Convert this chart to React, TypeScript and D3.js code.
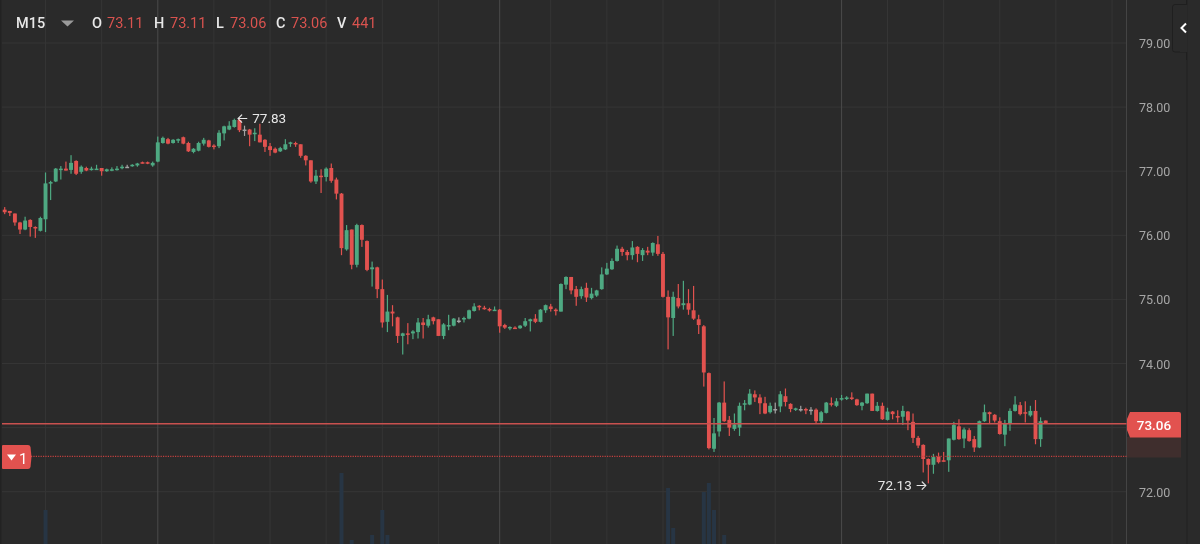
import React from "react";
import * as d3 from "d3";

const opens = [
  76.40,76.38,76.34,76.20,76.09,76.24,76.13,76.07,76.25,76.81,
  76.84,77.03,77.04,77.02,77.16,76.99,77.05,77.02,77.03,77.05,
  77.00,77.02,77.03,77.05,77.07,77.08,77.09,77.14,77.14,77.09,
  77.15,77.44,77.50,77.44,77.48,77.53,77.44,77.30,77.32,77.43,
  77.48,77.40,77.39,77.59,77.65,77.69,77.80,77.65,77.65,77.58,
  77.57,77.49,77.39,77.35,77.31,77.34,77.43,77.44,77.42,77.24,
  77.17,76.84,76.93,76.91,77.05,76.87,76.65,75.78,76.09,75.54,
  76.16,75.91,75.47,75.50,75.16,74.65,74.81,74.72,74.43,74.47,
  74.47,74.49,74.64,74.59,74.72,74.69,74.43,74.58,74.59,74.67,
  74.69,74.70,74.82,74.90,74.87,74.85,74.83,74.84,74.60,74.56,
  74.56,74.55,74.59,74.66,74.70,74.65,74.83,74.89,74.84,74.81,
  75.23,75.35,75.16,75.05,75.18,75.02,75.06,75.16,75.39,75.47,
  75.60,75.79,75.74,75.69,75.82,75.69,75.76,75.73,75.86,75.71,
  75.04,74.71,75.02,74.91,74.94,74.83,74.69,74.58,73.85,72.67,
  72.94,73.39,73.12,72.98,73.00,73.36,73.36,73.52,73.47,73.38,
  73.24,73.29,73.33,73.49,73.37,73.28,73.29,73.29,73.28,73.28,
  73.10,73.23,73.38,73.34,73.44,73.45,73.47,73.44,73.34,73.38,
  73.53,73.26,73.34,73.12,73.25,73.18,73.17,73.25,73.09,72.84,
  72.73,72.51,72.42,72.55,72.49,72.49,72.81,73.02,72.83,72.96,
  72.82,72.69,73.10,73.24,73.20,73.10,72.89,73.06,73.26,73.35,
  73.24,73.19,73.26,72.82,73.11,
];
const closes = [
  76.36,76.35,76.20,76.09,76.23,76.13,76.11,76.27,76.81,76.83,
  77.04,77.04,77.01,77.13,76.96,77.07,77.01,77.04,77.04,77.00,
  77.03,77.03,77.04,77.07,77.07,77.10,77.12,77.13,77.12,77.13,
  77.45,77.52,77.43,77.49,77.50,77.43,77.31,77.35,77.44,77.49,
  77.38,77.38,77.60,77.70,77.71,77.80,77.64,77.65,77.57,77.60,
  77.45,77.38,77.33,77.29,77.36,77.42,77.45,77.43,77.24,77.17,
  76.84,76.93,76.92,77.04,76.85,76.65,75.80,76.08,75.54,76.16,
  75.93,75.46,75.50,75.16,74.64,74.81,74.78,74.43,74.47,74.45,
  74.50,74.64,74.60,74.69,74.66,74.43,74.61,74.60,74.70,74.67,
  74.71,74.83,74.89,74.88,74.85,74.83,74.84,74.58,74.56,74.57,
  74.54,74.59,74.66,74.69,74.65,74.84,74.91,74.85,74.82,75.24,
  75.35,75.14,75.04,75.16,75.03,75.09,75.14,75.39,75.48,75.60,
  75.79,75.74,75.69,75.81,75.71,75.77,75.73,75.88,75.71,75.04,
  74.72,75.04,74.89,74.94,74.84,74.70,74.60,73.86,72.68,72.91,
  73.39,73.10,73.00,73.05,73.34,73.38,73.53,73.47,73.38,73.22,
  73.34,73.29,73.52,73.40,73.29,73.30,73.29,73.27,73.28,73.10,
  73.24,73.39,73.36,73.41,73.46,73.47,73.45,73.35,73.39,73.53,
  73.26,73.34,73.13,73.25,73.21,73.16,73.26,73.11,72.84,72.72,
  72.51,72.42,72.54,72.46,72.48,72.83,73.04,72.82,72.97,72.79,
  72.69,73.10,73.24,73.21,73.11,72.90,73.06,73.26,73.36,73.21,
  73.23,73.26,72.82,73.10,73.06,
];
const highs = [
  76.44,76.38,76.34,76.21,76.29,76.25,76.14,76.29,76.98,76.85,
  77.05,77.08,77.15,77.25,77.17,77.09,77.07,77.07,77.10,77.05,
  77.04,77.06,77.08,77.10,77.10,77.11,77.13,77.15,77.15,77.15,
  77.54,77.54,77.52,77.50,77.51,77.54,77.46,77.36,77.46,77.52,
  77.49,77.42,77.64,77.71,77.78,77.82,77.83,77.71,77.66,77.67,
  77.74,77.50,77.44,77.37,77.38,77.50,77.46,77.46,77.42,77.25,
  77.17,77.02,77.03,77.06,77.12,76.90,76.66,76.16,76.09,76.18,
  76.17,75.92,75.59,75.51,75.31,75.07,74.91,74.73,74.48,74.63,
  74.52,74.71,74.71,74.76,74.73,74.69,74.63,74.76,74.71,74.72,
  74.73,74.84,74.94,74.91,74.90,74.87,74.89,74.85,74.62,74.58,
  74.58,74.60,74.71,74.70,74.77,74.85,74.92,74.93,74.86,75.25,
  75.36,75.35,75.21,75.20,75.26,75.18,75.15,75.50,75.57,75.64,
  75.84,75.82,75.77,75.91,75.83,75.80,75.82,75.89,75.99,75.74,
  75.14,75.12,75.24,75.29,75.16,75.21,74.76,74.60,73.86,73.15,
  73.40,73.72,73.18,73.22,73.39,73.43,73.60,73.58,73.52,73.48,
  73.39,73.39,73.57,73.61,73.38,73.31,73.34,73.31,73.32,73.30,
  73.26,73.40,73.47,73.46,73.51,73.49,73.55,73.45,73.40,73.53,
  73.53,73.40,73.39,73.31,73.26,73.27,73.34,73.26,73.22,72.87,
  72.74,72.52,72.59,72.61,72.62,72.83,73.09,73.13,73.00,72.99,
  72.87,73.11,73.36,73.25,73.21,73.16,73.12,73.30,73.49,73.40,
  73.41,73.34,73.43,73.16,73.11,
];
const lows = [
  76.33,76.30,76.15,76.02,76.08,75.98,75.96,76.06,76.05,76.55,
  76.83,76.87,77.01,76.96,76.94,76.96,77.00,77.01,77.02,76.93,
  76.99,77.00,77.01,77.03,77.05,77.07,77.07,77.12,77.11,77.07,
  77.14,77.43,77.42,77.43,77.44,77.42,77.30,77.28,77.31,77.40,
  77.37,77.34,77.36,77.48,77.64,77.68,77.61,77.55,77.39,77.47,
  77.45,77.30,77.24,77.28,77.30,77.33,77.38,77.38,77.21,77.09,
  76.82,76.80,76.66,76.84,76.82,76.56,75.69,75.76,75.47,75.50,
  75.82,75.44,75.20,75.02,74.56,74.49,74.58,74.32,74.14,74.30,
  74.38,74.39,74.39,74.56,74.61,74.43,74.38,74.52,74.58,74.63,
  74.64,74.69,74.81,74.83,74.84,74.81,74.82,74.48,74.54,74.52,
  74.54,74.54,74.57,74.50,74.63,74.64,74.79,74.81,74.75,74.81,
  75.16,75.08,74.90,75.01,74.96,75.00,75.04,75.15,75.38,75.46,
  75.59,75.68,75.61,75.62,75.58,75.60,75.69,75.68,75.68,75.03,
  74.22,74.43,74.86,74.84,74.76,74.68,74.46,73.64,72.66,72.62,
  72.86,73.09,72.87,72.95,72.87,73.27,73.35,73.40,73.21,73.21,
  73.22,73.22,73.24,73.33,73.24,73.26,73.25,73.21,73.20,73.07,
  73.07,73.22,73.33,73.32,73.42,73.43,73.43,73.34,73.27,73.37,
  73.26,73.25,73.12,73.11,73.13,73.08,73.04,72.96,72.76,72.68,
  72.30,72.13,72.28,72.44,72.47,72.31,72.80,72.81,72.68,72.78,
  72.62,72.68,73.09,73.07,73.08,72.89,72.71,72.95,73.25,73.19,
  73.08,73.17,72.74,72.70,73.06,
];
const volumeCandles = [8, 66, 68, 72, 74, 75, 130, 131, 137, 138, 139, 141];
const volumeValues = [3400, 7100, 400, 900, 3400, 900, 5600, 1600, 5200, 6100, 3400, 900];

const priceTicks = [79, 78, 77, 76, 75, 74, 73, 72];
const gridCandles = [8, 19, 30, 41, 52, 63, 74, 85, 97, 107, 118, 129, 140, 151, 164, 173, 184, 195, 206, 217];
const strongGridCandles = [30, 97, 164];

const headerItems = [
  { label: "O", value: "73.11", lx: 92, vx: 107 },
  { label: "H", value: "73.11", lx: 154, vx: 170 },
  { label: "L", value: "73.06", lx: 216, vx: 230 },
  { label: "C", value: "73.06", lx: 276, vx: 291 },
  { label: "V", value: "441", lx: 337, vx: 352 },
];
const lastPrice = 73.06;
const orderPrice = 72.55;
const highestPrice = 77.83;
const lowestPrice = 72.13;

const W = 1200;
const H = 544;
const AXIS_X = 1126.5;
const BG = "#2a2a2a";
const GRID = "#353535";
const STRONG = "#4a4a4a";
const GREEN = "#4ea982";
const RED = "#e2524f";
const GRAY = "#a3a3a3";
const FONT = "Roboto, Inter, sans-serif";

const x = d3.scaleLinear().domain([0, 204]).range([4.7, 1045.7]);
const y = d3.scaleLinear().domain([72, 79]).range([491.7, 43]);
const vol = d3.scaleLinear().domain([0, 100]).range([544, 543]);

export default function App() {
  const bodyW = 3.9;
  return (
    <svg width={W} height={H} style={{ position: "absolute", left: 0, top: 0, display: "block", filter: "blur(0.3px)" }} fontFamily={FONT}>
      <rect width={W} height={H} fill={BG} />
      <rect x={0} width={1.5} height={H} fill="#222222" />
      {priceTicks.map((p) => (
        <line key={p} x1={2} x2={AXIS_X} y1={y(p)} y2={y(p)} stroke={GRID} />
      ))}
      {gridCandles.map((i) => (
        <line key={i} x1={x(i)} x2={x(i)} y1={0} y2={H}
          stroke={strongGridCandles.includes(i) ? STRONG : GRID} />
      ))}
      <line x1={AXIS_X} x2={AXIS_X} y1={0} y2={H} stroke="#444444" />
      <line x1={1187} x2={1187} y1={0} y2={H} stroke="#202020" />

      {volumeCandles.map((c, k) => (
        <rect key={c} x={x(c) - 2} width={4} y={vol(volumeValues[k])} height={H - vol(volumeValues[k])} fill="#273544" />
      ))}

      {opens.map((o, i) => {
        const c = closes[i];
        const color = o === c ? GRAY : c > o ? GREEN : RED;
        const top = y(Math.max(o, c));
        const h = Math.max(1.5, y(Math.min(o, c)) - top);
        return (
          <g key={i} fill={color}>
            <rect x={x(i) - 0.6} width={1.2} y={y(highs[i])} height={y(lows[i]) - y(highs[i])} />
            <rect x={x(i) - bodyW / 2} width={bodyW} y={top} height={h} />
          </g>
        );
      })}

      <line x1={2} x2={AXIS_X} y1={y(lastPrice)} y2={y(lastPrice)} stroke="#c9514f" strokeWidth={1.6} />
      <line x1={31} x2={AXIS_X} y1={y(orderPrice)} y2={y(orderPrice)} stroke="#c2403f" strokeWidth={1.2} strokeDasharray="1.2 1.2" />

      <path d="M2 446 Q2 445 3 445 H28 Q30 445 30.5 447 L31.5 457 L30.5 467 Q30 469 28 469 H3 Q2 469 2 468 Z" fill={RED} />
      <path d="M7 454.5 H16 L11.5 460.5 Z" fill="#ffffff" />
      <text x={19} y={463.5} fontSize={15} fill="#ffffff">1</text>

      <rect x={1127} y={437} width={54} height={20.5} fill="#3f2e2d" />
      <path d="M1130 412 H1179 Q1181 412 1181 414 V437.5 H1130 L1127 430 V419 Z" fill={RED} />
      <text x={1154} y={425} dy="0.36em" textAnchor="middle" fontSize={13.5} fontWeight={500} fill="#ffffff">73.06</text>

      {priceTicks.filter((p) => p !== 73).map((p) => (
        <text key={p} x={1139} y={y(p) + 0.5} dy="0.36em" fontSize={12.5} fill="#a6a6a6">{p.toFixed(2)}</text>
      ))}

      <path d="M1186.5 0 V4.5 H1175 Q1172.5 4.5 1172.5 7 V49.5 Q1172.5 52 1175 52 H1186.5 V60" fill={BG} stroke="#1f1f1f" />
      <rect x={1180} y={5} width={7.5} height={47} fill={BG} />
      <path d="M1186 23.5 L1181.5 28 L1186 32.5" fill="none" stroke="#ffffff" strokeWidth={2} />

      <text x={16} y={27.5} fontSize={14.5} fontWeight={500} fill="#e8e8e8">M15</text>
      <path d="M61 20.5 H74 L67.5 26.5 Z" fill="#9a9a9a" />
      {headerItems.map((it) => (
        <g key={it.label} fontSize={14.5}>
          <text x={it.lx} y={27.5} fontWeight={500} fill="#e8e8e8">{it.label}</text>
          <text x={it.vx} y={27.5} fill="#d9534f">{it.value}</text>
        </g>
      ))}

      <text x={236} y={y(highestPrice) + 5} fontSize={13.5} fill="#e6e6e6">← {highestPrice}</text>
      <text x={928} y={y(lowestPrice) + 7} textAnchor="end" fontSize={13.5} fill="#e6e6e6">{lowestPrice} →</text>
    </svg>
  );
}
